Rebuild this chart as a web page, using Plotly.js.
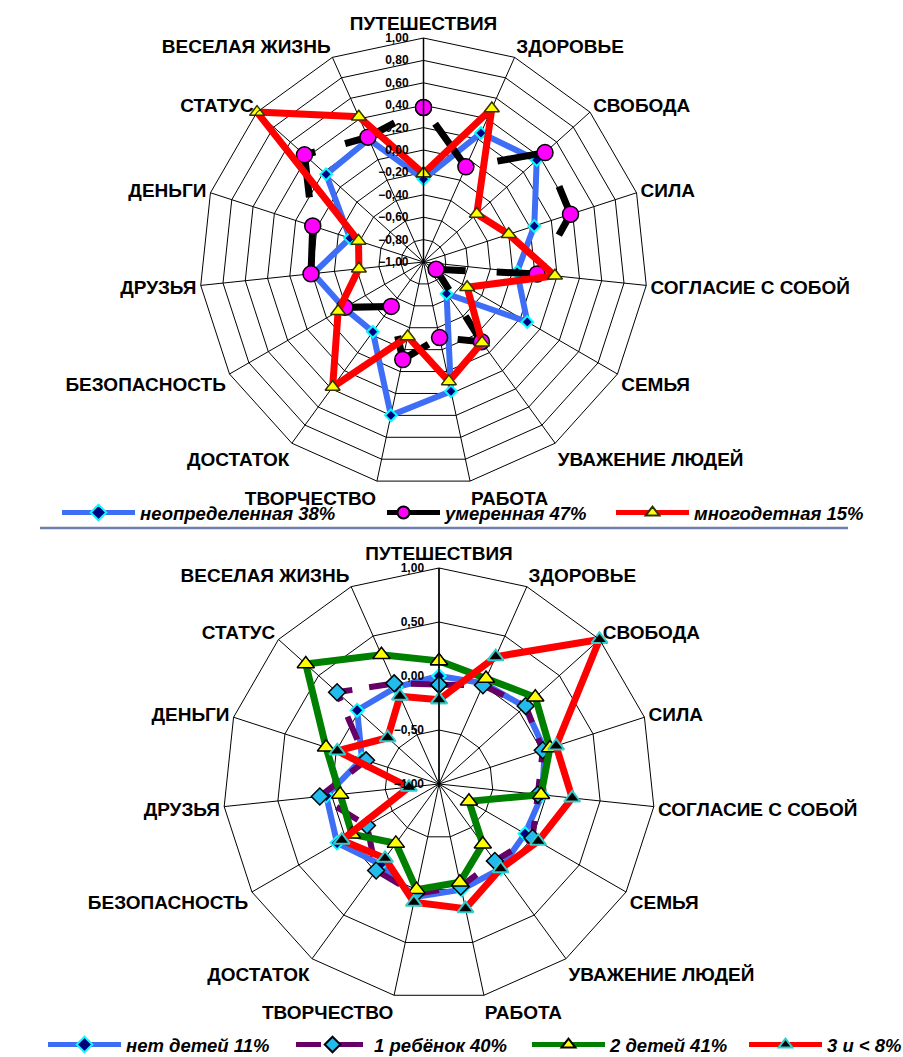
<!DOCTYPE html>
<html><head><meta charset="utf-8">
<script src="https://cdn.plot.ly/plotly-3.0.1.min.js"></script>
<style>html,body{margin:0;padding:0;background:#fff}#chart{width:903px;height:1057px}</style>
</head><body><div id="chart"></div>
<script>
// Categories (clockwise from top)
const categories = ['ПУТЕШЕСТВИЯ','ЗДОРОВЬЕ','СВОБОДА','СИЛА','СОГЛАСИЕ С СОБОЙ','СЕМЬЯ','УВАЖЕНИЕ ЛЮДЕЙ','РАБОТА','ТВОРЧЕСТВО','ДОСТАТОК','БЕЗОПАСНОСТЬ','ДРУЗЬЯ','ДЕНЬГИ','СТАТУС','ВЕСЕЛАЯ ЖИЗНЬ'];

// Top chart series
const topNames = ['неопределенная 38%','умеренная 47%','многодетная 15%'];
const neopredelennaya = [-0.26, 0.26, 0.36, 0.04,-0.16, 0.07,-0.65, 0.18, 0.40,-0.23,-0.18,-0.01,-0.31, 0.17, 0.20];
const umerennaya      = [ 0.38,-0.07, 0.46, 0.38, 0.02,-0.87,-0.12,-0.31,-0.11,-0.51,-0.19, 0.01, 0.04, 0.43, 0.22];
const mnogodetnaya    = [-0.21, 0.50,-0.36,-0.20, 0.18,-0.55,-0.11, 0.09,-0.32, 0.38,-0.12,-0.42,-0.39, 1.00, 0.42];

// Bottom chart series
const bottomNames = ['нет детей 11%','1 ребёнок 40%','2 детей 41%','3 и < 8%'];
const netDetey    = [ 0.00, 0.02, 0.07, 0.03,-0.04,-0.08,-0.03, 0.00, 0.07,-0.08, 0.09, 0.05,-0.25, 0.02,-0.02];
const odinRebenok = [-0.08, 0.00, 0.08, 0.01,-0.08, 0.00,-0.12,-0.03, 0.04,-0.01,-0.23, 0.11,-0.29, 0.27, 0.02];
const dvaDetey    = [ 0.14, 0.07, 0.20, 0.08,-0.05,-0.68,-0.31,-0.07, 0.00,-0.32,-0.07,-0.08, 0.10, 0.66, 0.31];
const triIBolee   = [-0.22, 0.29, 1.00, 0.14, 0.24, 0.06,-0.03, 0.18, 0.12,-0.15, 0.04,-0.72,-0.01,-0.36,-0.11];

const FONT = 'Liberation Sans, Arial, sans-serif';
const close = a => a.concat([a[0]]);
const theta = close(categories);

function tr(r, name, sub, leg, line, marker) {
  return {type:'scatterpolar', mode:'lines+markers', r: close(r), theta: theta, name: name,
    subplot: sub, legend: leg, showlegend: true, cliponaxis: false,
    line: line, marker: marker, hoverinfo:'skip'};
}

const BLUE = '#3D6EF5';
const data = [
  tr(neopredelennaya, topNames[0], 'polar', 'legend',
     {color:BLUE, width:6},
     {symbol:'diamond', size:9, color:'#000080', line:{color:'#00FFFF', width:2}}),
  tr(umerennaya, topNames[1], 'polar', 'legend2',
     {color:'#000000', width:7, dash:'0px,20px,54px,11px'},
     {symbol:'circle', size:16, color:'#FF00FF', line:{color:'#000000', width:1.5}}),
  tr(mnogodetnaya, topNames[2], 'polar', 'legend3',
     {color:'#FF0000', width:7},
     {symbol:'triangle-up', size:13, color:'#FFFF00', line:{color:'#333300', width:1.5}}),
  tr(netDetey, bottomNames[0], 'polar2', 'legend4',
     {color:BLUE, width:6},
     {symbol:'diamond', size:10, color:'#000080', line:{color:'#00FFFF', width:2}}),
  tr(odinRebenok, bottomNames[1], 'polar2', 'legend5',
     {color:'#660066', width:6, dash:'25px,17px'},
     {symbol:'diamond', size:13, color:'#22BBEE', line:{color:'#000000', width:1.5}}),
  tr(dvaDetey, bottomNames[2], 'polar2', 'legend6',
     {color:'#008000', width:7},
     {symbol:'triangle-up', size:15, color:'#FFFF00', line:{color:'#000000', width:1.5}}),
  tr(triIBolee, bottomNames[3], 'polar2', 'legend7',
     {color:'#FF0000', width:7},
     {symbol:'triangle-up', size:14, color:'#000000', line:{color:'#33CCCC', width:2}})
];

const W = 903, H = 1057;
function polarCfg(cx, cy, R, dtick) {
  return {
    domain: {x:[(cx-R)/W, (cx+R)/W], y:[(H-cy-R)/H, (H-cy+R)/H]},
    gridshape: 'linear', bgcolor: '#ffffff',
    angularaxis: {type:'category', direction:'clockwise', rotation:90,
      linecolor:'#000', linewidth:1, gridcolor:'#000', gridwidth:1, ticks:'',
      tickfont:{family:FONT, size:19, color:'#000', weight:700}},
    radialaxis: {range:[-1,1], dtick:dtick, tick0:-1, tickformat:'.2f', angle:90, tickangle:90,
      side:'counterclockwise', showline:true, linecolor:'#000', linewidth:1.5,
      gridcolor:'#000', gridwidth:1, ticks:'outside', ticklen:10, tickcolor:'rgba(0,0,0,0)',
      tickfont:{family:FONT, size:12, color:'#000', weight:700}}
  };
}

function leg(xpx, ypx) {
  return {x:(xpx-5)/W, y:1-ypx/H, xanchor:'left', yanchor:'middle', orientation:'h',
    bgcolor:'rgba(0,0,0,0)', borderwidth:0, itemwidth:73, itemsizing:'constant',
    font:{family:FONT, size:18.5, color:'#000', weight:700, style:'italic'}};
}

const layout = {
  width: W, height: H, margin:{l:0,r:0,t:0,b:0, autoexpand:false},
  paper_bgcolor:'#fff', separators:', ', showlegend: true,
  polar: polarCfg(423.5, 262, 224, 0.2),
  polar2: polarCfg(439, 784, 216, 0.5),
  legend: leg(62, 513), legend2: leg(367, 513), legend3: leg(616, 513),
  legend4: leg(48, 1045), legend5: leg(296, 1045), legend6: leg(532, 1045), legend7: leg(749, 1045),
  shapes: [{type:'line', xref:'paper', yref:'paper', x0:40/W, x1:848/W, y0:1-528/H, y1:1-528/H,
    line:{color:'#6F7FA8', width:2.5}}]
};

const cfg = {staticPlot:true};
Plotly.newPlot('chart', data, layout, cfg).then(gd => {
  // Plotly's polygon inside-test mis-handles a radial range that starts below zero,
  // hiding every marker; accept all points (they all lie within the grid).
  const proto = Object.getPrototypeOf(gd._fullLayout.polar._subplot);
  proto.isPtInside = function() { return true; };
  return Plotly.newPlot(gd, data, layout, cfg);
});
</script></body></html>
